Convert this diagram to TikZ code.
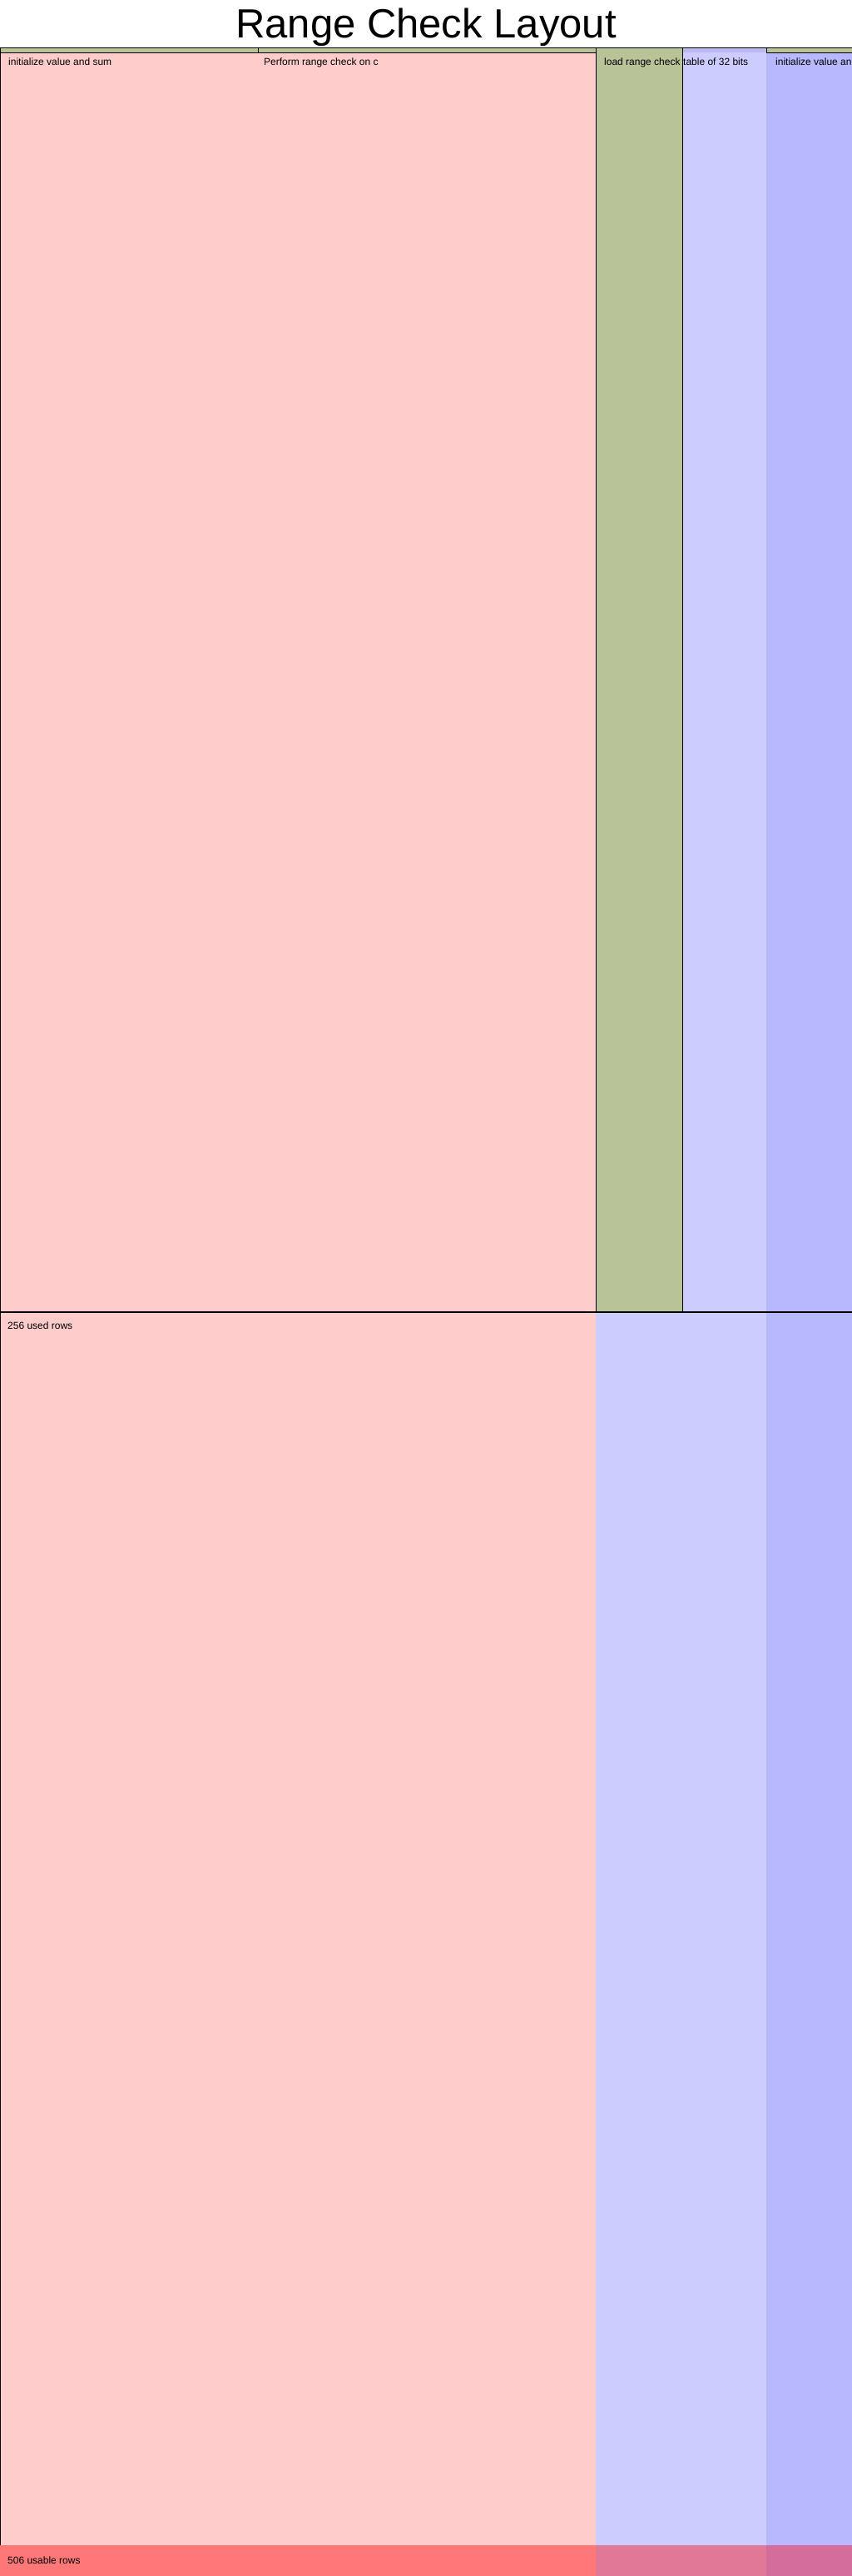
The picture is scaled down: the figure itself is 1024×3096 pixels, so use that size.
\documentclass[tikz,border=0pt]{standalone}
\usepackage{fontspec}
\setmainfont{Liberation Sans}
\definecolor{advpink}{RGB}{255,204,204}
\definecolor{lav}{RGB}{204,204,255}
\definecolor{lavtop}{RGB}{186,186,242}
\definecolor{fixblue}{RGB}{184,184,255}
\definecolor{regiongreen}{RGB}{185,195,152}
\definecolor{botpink}{RGB}{255,120,120}
\definecolor{botlav}{RGB}{224,120,150}
\definecolor{botblue}{RGB}{212,108,156}
\tikzset{
  region/.style={fill=regiongreen,draw=black,line width=1pt},
  border/.style={draw=black,line width=1.2pt},
  lbl/.style={anchor=base west,inner sep=0pt,font=\fontsize{12}{14}\selectfont},
}
\begin{document}
\begin{tikzpicture}[x=1pt,y=-1pt]
\useasboundingbox (0,0) rectangle (1024,3096);
\begin{scope}
\clip (0,0) rectangle (1024,3096);
% columns
\fill[advpink] (0,58) rectangle (716,3059);
\fill[lav] (716,58) rectangle (921,3059);
\fill[fixblue] (921,58) rectangle (1024,3059);
% usable rows strip
\fill[botpink] (0,3059) rectangle (716,3096);
\fill[botlav] (716,3059) rectangle (921,3096);
\fill[botblue] (921,3059) rectangle (1024,3096);
% regions
\fill[lavtop] (820,58) rectangle (921,63.5);
\draw[region] (0,57.5) rectangle (310,63.5);
\draw[region] (310,57.5) rectangle (716,63.5);
\draw[region] (716,57.5) rectangle (820,1577);
\draw[region] (921,57.5) rectangle (1030,63.5);
% used rows box
\draw[border] (0.6,3059) -- (0.6,57.5) -- (1030,57.5);
\draw[border] (0,1577) -- (1030,1577);
% labels
\node[lbl] (l1) at (10,78.5) {initialize value and sum};
\node[lbl] (l2) at (317,78.5) {Perform range check on c};
\node[lbl] (l3) at (726,78.5) {load range check};
\node[lbl] (l4) at (821,78.5) {table of 32 bits};
\node[lbl] (l5) at (932,78.5) {initialize value and sum};
\node[lbl] (l6) at (9,1597.5) {256 used rows};
\node[lbl] (l7) at (9,3081) {506 usable rows};
\end{scope}
\node[anchor=base,inner sep=0pt,font=\fontsize{49}{56}\selectfont] (title) at (512,46) {Range Check Layout};
\end{tikzpicture}
\end{document}
